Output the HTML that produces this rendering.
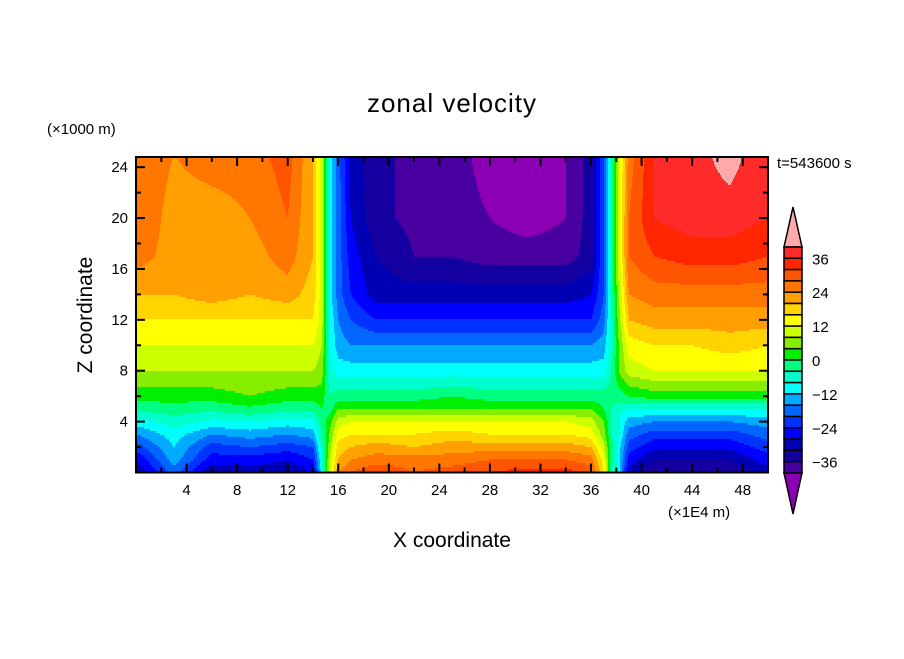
<!DOCTYPE html>
<html><head><meta charset="utf-8"><style>
body{margin:0;background:#fff;}
svg text{font-family:"Liberation Sans",sans-serif;fill:#000;}
</style></head><body>
<svg id="chart" width="904" height="654" xmlns="http://www.w3.org/2000/svg">
<rect width="904" height="654" fill="#fff"/>
<text x="452" y="112" font-size="26" text-anchor="middle" letter-spacing="1">zonal velocity</text>
<text x="47" y="134" font-size="15">(×1000 m)</text>
<text x="777" y="168" font-size="15">t=543600 s</text>
<text x="92" y="315" font-size="21" text-anchor="middle" transform="rotate(-90 92 315)">Z coordinate</text>
<text x="452" y="547" font-size="21" text-anchor="middle">X coordinate</text>
<text x="668" y="517" font-size="15">(×1E4 m)</text>
<g id="field"></g>
<g id="axes"></g>
<g id="cbar"></g>
</svg>
<script>
const xCoords=[0,3,6,9,12,14,14.7,15.3,16,17,19,22,25,28,31,34,36,37,37.6,38.2,39,41,44,47,50];
const zCoords=[0,1,2,3,4,5,6,8,10,12,14,17,20,25];
const rowZ0=[-32,-18,-32,-30,-32,-28,-10,10,24,28,32,28,30,32,34,34,30,16,-4,-10,-30,-36,-36,-36,-30];
const rowZ1=[-28,-14,-26,-26,-28,-24,-8,8,20,24,26,26,26,28,28,28,26,14,-2,-10,-26,-32,-32,-32,-26];
const rowZ2=[-22,-12,-22,-20,-22,-20,-6,6,18,20,22,20,22,22,22,22,20,10,-2,-10,-22,-27,-27,-27,-22];
const rowZ3=[-16,-10,-16,-14,-16,-14,-4,4,14,16,16,16,18,16,16,16,14,6,-4,-8,-18,-22,-22,-22,-18];
const rowZ4=[-10,-6,-9,-8,-10,-9,-2,2,10,12,12,12,12,12,12,12,10,4,-4,-8,-14,-16,-16,-16,-14];
const rowZ5=[-3,-2,-3,-1,-3,-3,0,-2,4,4,4,4,4,4,4,4,4,0,-4,-6,-8,-8,-8,-8,-8];
const rowZ6=[2,2,2,4,2,2,2,-4,-2,-2,-2,-2,0,-2,-2,-2,-2,-2,-2,-2,0,2,2,2,2];
const rowZ8=[8,8,8,8,8,8,6,-6,-10,-10,-10,-10,-10,-10,-10,-10,-10,-10,-4,4,10,12,12,12,12];
const rowZ10=[12,12,12,12,12,12,8,-8,-14,-16,-16,-16,-16,-16,-16,-16,-16,-14,-6,4,14,16,16,18,16];
const rowZ12=[16,16,16,16,16,16,10,-8,-16,-20,-24,-24,-24,-24,-24,-24,-24,-18,-6,6,20,22,22,22,22];
const rowZ14=[20,20,22,20,22,18,10,-10,-18,-24,-30,-30,-30,-30,-30,-30,-28,-20,-6,8,24,26,26,26,26];
const rowZ17=[26,22,22,22,26,20,10,-10,-18,-26,-32,-36,-36,-38,-38,-38,-34,-20,-6,10,28,32,34,34,32];
const rowZ20=[28,22,22,24,28,20,10,-10,-18,-28,-35,-37,-38,-40,-42,-40,-34,-20,-6,10,28,36,38,38,36];
const rowZ25=[28,24,26,26,30,20,10,-10,-18,-30,-35,-37,-38,-42,-42,-40,-34,-20,-6,10,26,36,38,42,36];
const fieldRows=[rowZ0,rowZ1,rowZ2,rowZ3,rowZ4,rowZ5,rowZ6,rowZ8,rowZ10,rowZ12,rowZ14,rowZ17,rowZ20,rowZ25];
const xTicks=[4,8,12,16,20,24,28,32,36,40,44,48];
const zTicks=[4,8,12,16,20,24];
const cbarLabels=[36,24,12,0,-12,-24,-36];
const levelColors=["#8c00b4","#4800a0","#1400a0","#0000b4","#0000ff","#0033ff","#0066ff","#00aaff","#00ffff","#00ffcc","#00ff80","#00ee00","#88ee00","#ccff00","#ffff00","#ffd400","#ffa000","#ff7700","#ff5500","#ff2600","#ff2a2a","#ffaaaa"];

const NS="http://www.w3.org/2000/svg";
const PL=136,PR=768,PT=157,PB=472.5;
const xScale=v=>PL+(v-0)/(50-0)*(PR-PL);
const zScale=v=>PB-(v-0)/(24.8-0)*(PB-PT);
const xInv=p=>(p-PL)/(PR-PL)*50;
const zInv=p=>(PB-p)/(PB-PT)*24.8;
function colorFor(v){let i=Math.floor((v+44)/4);if(i<0)i=0;if(i>21)i=21;return levelColors[i];}
function seg(arr,v){let i=0;while(i<arr.length-2&&v>arr[i+1])i++;let t=(v-arr[i])/(arr[i+1]-arr[i]);t=Math.max(0,Math.min(1,t));return [i,t];}
function sample(x,z){const [i,tx]=seg(xCoords,x);const [j,tz]=seg(zCoords,z);
 const a=fieldRows[j][i],b=fieldRows[j][i+1],c=fieldRows[j+1][i],d=fieldRows[j+1][i+1];
 return (a*(1-tx)+b*tx)*(1-tz)+(c*(1-tx)+d*tx)*tz;}
const field=document.getElementById('field');
const step=2;
for(let py=PT;py<PB;py+=step){
 const z=zInv(py+step/2);let runStart=PL,runCol=null;
 for(let px=PL;px<=PR;px++){
  const col=px<PR?colorFor(sample(xInv(px+0.5),z)):null;
  if(col!==runCol){
   if(runCol!==null){const r=document.createElementNS(NS,'rect');
    
    
    r.setAttribute('x',runStart);r.setAttribute('y',py);r.setAttribute('width',px-runStart+0.5);r.setAttribute('height',Math.min(step,PB-py)+0.3);r.setAttribute('fill',runCol);field.appendChild(r);}
   runStart=px;runCol=col;}
 }
}
const axes=document.getElementById('axes');
function line(x1,y1,x2,y2,w,name){const l=document.createElementNS(NS,'line');
 
 
 l.setAttribute('x1',x1);l.setAttribute('y1',y1);l.setAttribute('x2',x2);l.setAttribute('y2',y2);l.setAttribute('stroke','#000');l.setAttribute('stroke-width',w);axes.appendChild(l);}
function txt(x,y,s,anchor,size,name,parent){const t=document.createElementNS(NS,'text');
 
 
 t.setAttribute('x',x);t.setAttribute('y',y);t.setAttribute('font-size',size);t.setAttribute('text-anchor',anchor);t.textContent=s;parent.appendChild(t);}
const frame=document.createElementNS(NS,'rect');


frame.setAttribute('x',PL);frame.setAttribute('y',PT);frame.setAttribute('width',PR-PL);frame.setAttribute('height',PB-PT);frame.setAttribute('fill','none');frame.setAttribute('stroke','#000');frame.setAttribute('stroke-width',2);axes.appendChild(frame);
for(let v=2;v<50;v+=2){const x=xScale(v);const major=v%4===0;const L=major?9:5;
 line(x,PB,x,PB-L,2,'x-tick');line(x,PT,x,PT+L,2,'x-tick-top');}
for(let v=2;v<25;v+=2){const y=zScale(v);const major=v%4===0;const L=major?9:5;
 line(PL,y,PL+L,y,2,'z-tick');line(PR,y,PR-L,y,2,'z-tick-right');}
xTicks.forEach(v=>txt(xScale(v),495,String(v),'middle',15,'x-tick-label',axes));
zTicks.forEach(v=>txt(PL-8,zScale(v)+5,String(v),'end',15,'z-tick-label',axes));
const cb=document.getElementById('cbar');
const CX=784,CW=18,CT=247,CB=473,BH=(CB-CT)/20;
const up=document.createElementNS(NS,'polygon');


up.setAttribute('points',`${CX},${CT} ${CX+CW},${CT} ${CX+CW/2},${207}`);up.setAttribute('fill',levelColors[21]);up.setAttribute('stroke','#000');up.setAttribute('stroke-width',1.5);cb.appendChild(up);
const dn=document.createElementNS(NS,'polygon');


dn.setAttribute('points',`${CX},${CB} ${CX+CW},${CB} ${CX+CW/2},${514}`);dn.setAttribute('fill',levelColors[0]);dn.setAttribute('stroke','#000');dn.setAttribute('stroke-width',1.5);cb.appendChild(dn);
for(let k=0;k<20;k++){const r=document.createElementNS(NS,'rect');
 
 
 r.setAttribute('x',CX);r.setAttribute('y',CT+k*BH);r.setAttribute('width',CW);r.setAttribute('height',BH);r.setAttribute('fill',levelColors[20-k]);r.setAttribute('stroke','#000');r.setAttribute('stroke-width',1.5);cb.appendChild(r);}
cbarLabels.forEach(v=>{const y=CT+(40-v)/4*BH;txt(812,y+6,(v<0?'\u2212':'')+Math.abs(v),'start',15,'colorbar-label',cb);});
</script>
</body></html>
